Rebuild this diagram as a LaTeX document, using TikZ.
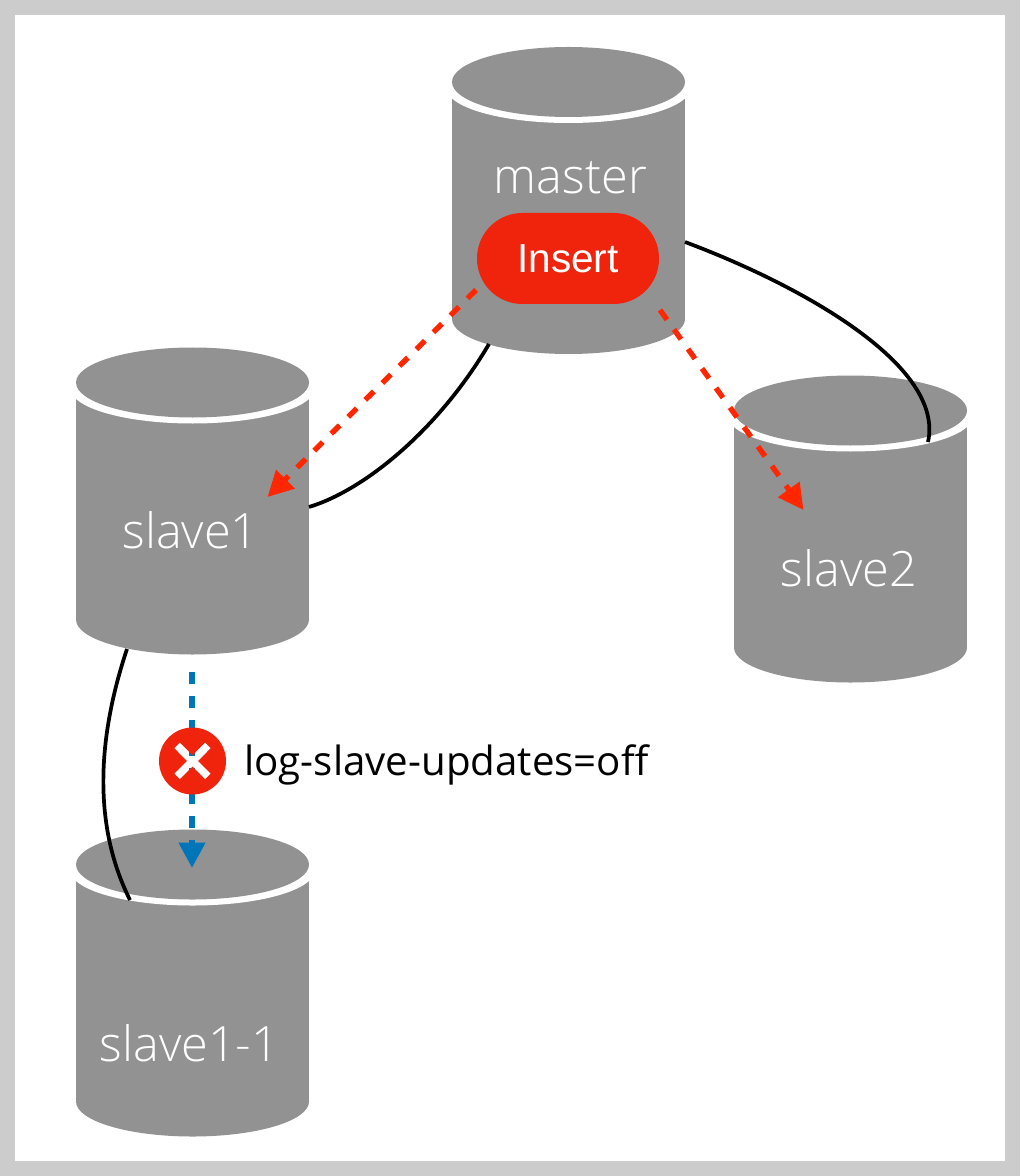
\documentclass[tikz,border=0pt]{standalone}
\usepackage{fontspec}
\setmainfont{Open Sans}
\newfontfamily\lightfont{Open Sans Light}
\newfontfamily\insertfont{Liberation Sans}
\usetikzlibrary{positioning,arrows.meta,calc}
\definecolor{mFrame}{HTML}{CCCCCC}
\definecolor{mGrey}{HTML}{929292}
\definecolor{mPill}{HTML}{F0230C}
\definecolor{mRed}{HTML}{FF2600}
\definecolor{mBlue}{HTML}{0076BA}
\tikzset{
 dbbox/.style={minimum width=174.75pt, minimum height=231pt, inner sep=0pt},
 dblabel/.style={text=white, font=\lightfont\fontsize{36.5}{36.5}\selectfont, inner sep=0pt},
 repline/.style={line width=2.8pt, black},
 redflow/.style={-{Triangle[length=19pt,width=19pt]}, mRed, line width=4pt, dash pattern=on 9pt off 9pt},
 blueflow/.style={-{Triangle[length=19pt,width=19pt]}, mBlue, line width=4.5pt, dash pattern=on 9pt off 9pt},
}
\newcommand{\dbnode}[5]{%
\begin{scope}[shift={(#1,#2)}]
 \fill[mGrey] (-116.5,-118.5) rectangle (116.5,118.5);
 \fill[mGrey] (0,118.5) ellipse [x radius=116.5, y radius=35];
 \fill[white] (0,-112.5) ellipse [x radius=122, y radius=35];
 \fill[mGrey] (0,-118.5) ellipse [x radius=116.5, y radius=35];
 \node[dbbox] (#3) at (0,0) {};
 \node[dblabel] (#3label) at (#5) {#4};
\end{scope}}

\begin{document}
\begin{tikzpicture}[x=0.75pt,y=-0.75pt]
\useasboundingbox (0,0) rectangle (1020,1176);
\fill[mFrame] (0,0) rectangle (1020,1176);
\fill[white] (15,15) rectangle (1005,1161);
\dbnode{568.5}{200.5}{master}{master}{2,-23}
\dbnode{192.5}{501}{slave1}{slave1}{-2,29}
\dbnode{850.5}{529}{slave2}{slave2}{-1.5,39}
\dbnode{192.5}{983}{slave11}{slave1-1}{-3,60}
\node[fill=mPill, rounded corners=34pt, minimum width=136.5pt, minimum height=68.25pt, inner sep=0pt, text=white, font=\insertfont\fontsize{30.4}{30.4}\selectfont] (insert) at (568,258.5) {Insert};
% replication lines
\draw[repline] ([shift={(-79.5,143.5)}]master.center) .. controls +(-50,85) and ([shift={(172.5,-11)}]slave1.center) .. ([shift={(116.5,6)}]slave1.center);
\draw[repline] ([shift={(116.5,41.5)}]master.center) .. controls +(115,43) and ([shift={(94.5,-164)}]slave2.center) .. ([shift={(77.5,-87)}]slave2.center);
\draw[repline] ([shift={(-65.5,148)}]slave1.center) .. controls +(-32,96) and ([shift={(-97.5,-153)}]slave11.center) .. ([shift={(-62.5,-83)}]slave11.center);
% flows
\draw[redflow] ([shift={(-92,31.5)}]insert.center) -- ([shift={(75,-4)}]slave1.center);
\draw[redflow] ([shift={(92,51.5)}]insert.center) -- ([shift={(-47,-19)}]slave2.center);
\draw[blueflow] ([shift={(-0.5,171)}]slave1.center) -- ([shift={(-0.5,-115)}]slave11.center);
% stop mark
\fill[mPill, even odd rule] (192.5,761) circle [radius=33.5]
 (192.5,755.3) -- ++(12.6,-12.9) -- ++(5.7,5.7) -- ++(-12.6,12.9) -- ++(12.6,12.6) -- ++(-5.7,5.7) -- ++(-12.6,-12.6) -- ++(-12.6,12.6) -- ++(-5.7,-5.7) -- ++(12.6,-12.6) -- ++(-12.6,-12.9) -- ++(5.7,-5.7) -- cycle;
\node[anchor=west, inner sep=0pt, font=\fontsize{30.2}{30.2}\selectfont] (logtext) at (244,765) {log-slave-updates=off};
\end{tikzpicture}
\end{document}
